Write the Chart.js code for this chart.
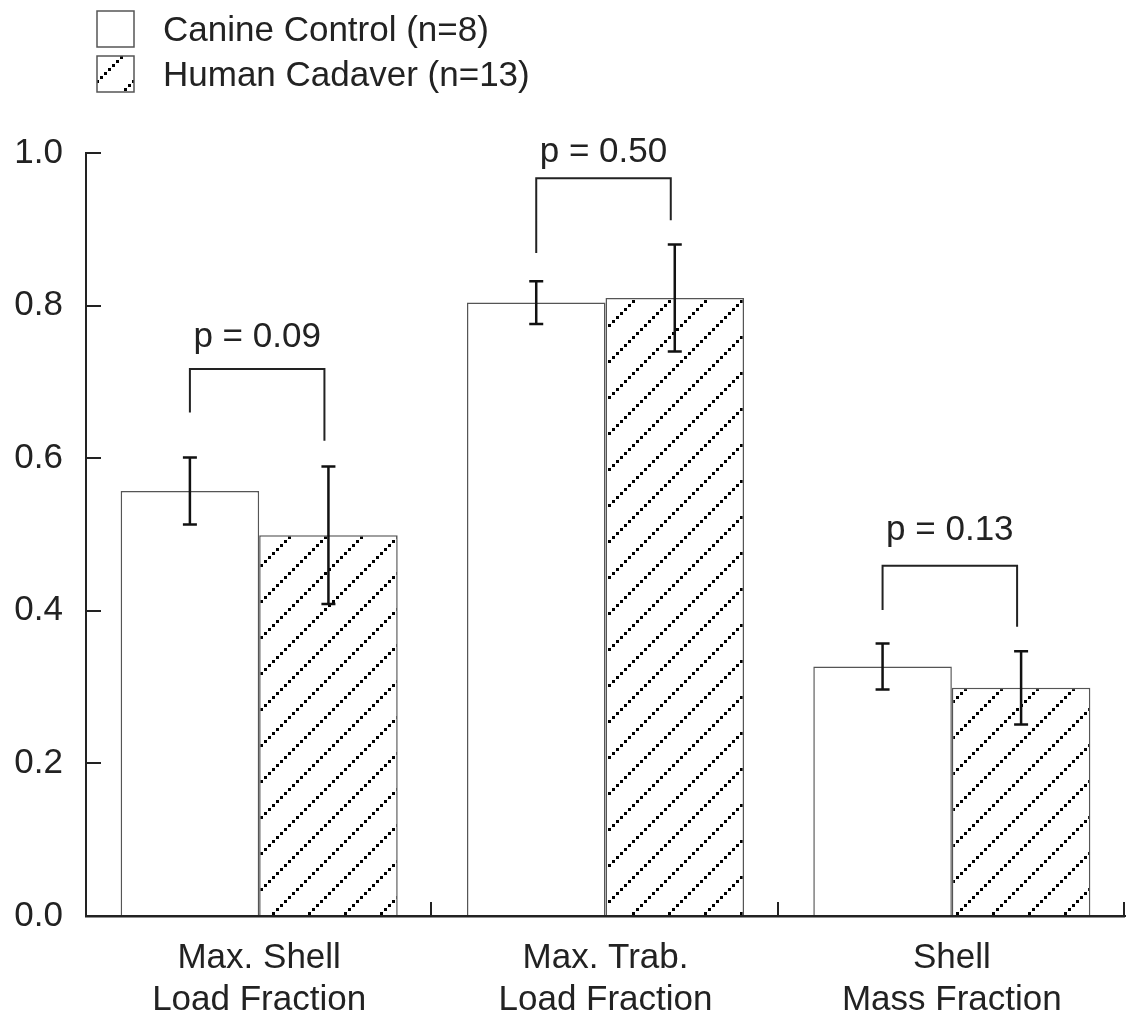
<!DOCTYPE html>
<html>
<head>
<meta charset="utf-8">
<script src="https://cdn.jsdelivr.net/npm/chart.js@4"></script>
<style>
  body { margin: 0; background: #fff; }
  canvas { display: block; }
</style>
</head>
<body>
<canvas id="chart" width="1128" height="1021"></canvas>
<script>
var categories = [['Max. Shell', 'Load Fraction'], ['Max. Trab.', 'Load Fraction'], ['Shell', 'Mass Fraction']]
var seriesNames = ['Canine Control (n=8)', 'Human Cadaver (n=13)']
var canineMeans = [0.557, 0.804, 0.327]
var canineErr = [0.044, 0.028, 0.030]
var humanMeans = [0.499, 0.810, 0.299]
var humanErr = [0.090, 0.070, 0.048]
var yTicks = [0, 0.2, 0.4, 0.6, 0.8, 1.0]

// significance brackets: top of bracket, bottom of left / right leg, label baseline
var pLabels = ['p = 0.09', 'p = 0.50', 'p = 0.13']
var pTop = [0.717, 0.967, 0.459]
var pLeftEnd = [0.660, 0.869, 0.401]
var pRightEnd = [0.623, 0.912, 0.379]
var pTextY = [0.746, 0.988, 0.493]

var FONT = '"Liberation Sans", Arial, Helvetica, sans-serif'
var INK = '#222'

// diagonal dotted hatch
function makeHatch() {
    var s = 36
    var c = document.createElement('canvas')
    c.width = s
    c.height = s
    var g = c.getContext('2d')
    g.fillStyle = '#fff'
    g.fillRect(0, 0, s, s)
    g.fillStyle = '#000'
    for (var i = 0; i < 9; i++) {
        g.fillRect(i * 4, s - (i + 1) * 4, 3, 3)
    }
    return g.createPattern(c, 'repeat')
}
var hatch = makeHatch()

var extras = {
    id: 'extras',
    afterDatasetsDraw: function(chart) {
        var ctx = chart.ctx
        var ys = chart.scales.y
        var area = chart.chartArea
        var sets = [[canineMeans, canineErr], [humanMeans, humanErr]]

        ctx.save()
        // x axis line again, on top of the bars
        ctx.fillStyle = INK
        ctx.fillRect(area.left - 1, Math.round(area.bottom) - 1, area.right - area.left + 1, 2.5)

        // error bars
        ctx.strokeStyle = '#111'
        ctx.lineWidth = 2.5
        sets.forEach(function(s, d) {
            var meta = chart.getDatasetMeta(d)
            meta.data.forEach(function(bar, i) {
                var x = bar.x
                var hi = ys.getPixelForValue(s[0][i] + s[1][i])
                var lo = ys.getPixelForValue(s[0][i] - s[1][i])
                ctx.beginPath()
                ctx.moveTo(x, hi); ctx.lineTo(x, lo)
                ctx.moveTo(x - 7, hi); ctx.lineTo(x + 7, hi)
                ctx.moveTo(x - 7, lo); ctx.lineTo(x + 7, lo)
                ctx.stroke()
            })
        })

        // brackets and p values
        ctx.strokeStyle = INK
        ctx.lineWidth = 2
        ctx.fillStyle = INK
        ctx.font = '35px ' + FONT
        ctx.textAlign = 'center'
        ctx.textBaseline = 'alphabetic'
        var m0 = chart.getDatasetMeta(0), m1 = chart.getDatasetMeta(1)
        for (var i = 0; i < pLabels.length; i++) {
            var xl = m0.data[i].x
            var xr = m1.data[i].x - 4
            var yt = ys.getPixelForValue(pTop[i])
            ctx.beginPath()
            ctx.moveTo(xl, ys.getPixelForValue(pLeftEnd[i]))
            ctx.lineTo(xl, yt)
            ctx.lineTo(xr, yt)
            ctx.lineTo(xr, ys.getPixelForValue(pRightEnd[i]))
            ctx.stroke()
            ctx.fillText(pLabels[i], (xl + xr) / 2, ys.getPixelForValue(pTextY[i]))
        }

        // inward ticks
        ctx.strokeStyle = INK
        ctx.lineWidth = 2
        ctx.beginPath()
        yTicks.forEach(function(v) {
            var y = Math.round(ys.getPixelForValue(v))
            ctx.moveTo(area.left, y); ctx.lineTo(area.left + 15, y)
        })
        var step = (area.right - area.left) / categories.length
        for (var k = 1; k <= categories.length; k++) {
            var x = Math.round(area.left + k * step) - 1
            ctx.moveTo(x, area.bottom); ctx.lineTo(x, area.bottom - 14)
        }
        ctx.stroke()

        // legend
        var fills = ['#fff', hatch]
        ctx.textAlign = 'left'
        ctx.textBaseline = 'middle'
        for (var j = 0; j < seriesNames.length; j++) {
            var by = 11 + j * 45
            ctx.fillStyle = fills[j]
            ctx.fillRect(97, by, 37, 36)
            ctx.strokeStyle = '#555'
            ctx.lineWidth = 1.5
            ctx.strokeRect(97, by, 37, 36)
            ctx.fillStyle = INK
            ctx.fillText(seriesNames[j], 163, by + 20)
        }
        ctx.restore()
    }
}

var chart = new Chart(document.getElementById('chart').getContext('2d'), {
    type: 'bar',
    data: {
        labels: categories,
        datasets: [{
            label: seriesNames[0],
            data: canineMeans,
            backgroundColor: '#fff',
            borderColor: '#555',
            borderWidth: 1.5,
            categoryPercentage: 0.8,
            barPercentage: 1.0
        }, {
            label: seriesNames[1],
            data: humanMeans,
            backgroundColor: hatch,
            borderColor: '#555',
            borderWidth: 1.5,
            categoryPercentage: 0.8,
            barPercentage: 1.0
        }]
    },
    options: {
        responsive: false,
        animation: false,
        layout: { padding: { top: 153, right: 3, left: 0, bottom: 0 } },
        plugins: {
            legend: { display: false },
            tooltip: { enabled: false }
        },
        scales: {
            x: {
                grid: { display: false, drawTicks: false },
                border: { display: true, color: INK, width: 2 },
                ticks: {
                    color: INK,
                    padding: 21,
                    autoSkip: false,
                    maxRotation: 0,
                    font: { family: FONT, size: 35, lineHeight: 1.2 }
                },
                afterFit: function(scale) { scale.height = 105 }
            },
            y: {
                min: 0,
                max: 1,
                grid: { display: false, drawTicks: false },
                border: { display: true, color: INK, width: 2 },
                ticks: {
                    stepSize: 0.2,
                    color: INK,
                    padding: 23,
                    font: { family: FONT, size: 35 },
                    callback: function(v) { return v.toFixed(1) }
                },
                afterFit: function(scale) { scale.width = 86 }
            }
        }
    },
    plugins: [extras]
});
</script>
</body>
</html>
